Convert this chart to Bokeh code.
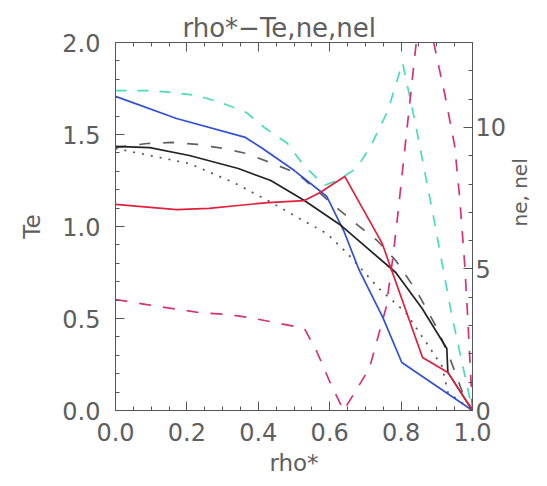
import math
from bokeh.plotting import figure
from bokeh.models import Range1d, LinearAxis, SingleIntervalTicker, PrintfTickFormatter
from bokeh.embed import file_html
from bokeh.resources import INLINE

# ---------------- data ----------------
# Te-axis (left) profiles
te_solid_rho = [0.0, 0.096, 0.207, 0.344, 0.435, 0.529, 0.628, 0.785, 0.859, 0.928, 0.931, 1.0]
te_solid_val = [1.435, 1.429, 1.386, 1.315, 1.250, 1.141, 1.011, 0.750, 0.554, 0.337, 0.207, 0.0]

te_dash_rho = [0.0, 0.088, 0.157, 0.229, 0.303, 0.366, 0.433, 0.510, 0.612, 0.680, 0.733, 0.785, 0.846, 0.901, 0.937, 0.975, 1.0]
te_dash_val = [1.429, 1.451, 1.457, 1.446, 1.424, 1.397, 1.348, 1.288, 1.114, 1.005, 0.924, 0.815, 0.641, 0.446, 0.283, 0.082, 0.0]

te_dot_rho = [0.0, 0.207, 0.331, 0.427, 0.510, 0.592, 0.647, 0.738, 0.813, 0.876, 0.915, 0.931, 1.0]
te_dot_val = [1.424, 1.342, 1.239, 1.141, 1.049, 0.962, 0.859, 0.663, 0.533, 0.353, 0.239, 0.098, 0.0]

te_blue_rho = [0.0, 0.171, 0.364, 0.408, 0.501, 0.592, 0.639, 0.683, 0.749, 0.802, 1.0]
te_blue_val = [1.707, 1.587, 1.484, 1.429, 1.304, 1.163, 0.978, 0.761, 0.505, 0.261, 0.0]

te_red_rho = [0.0, 0.171, 0.262, 0.344, 0.427, 0.529, 0.573, 0.642, 0.747, 0.860, 0.931, 1.0]
te_red_val = [1.120, 1.092, 1.098, 1.114, 1.130, 1.141, 1.185, 1.272, 0.908, 0.288, 0.207, 0.0]

# ne-axis (right) profiles
ne_cyan_rho = [0.0, 0.096, 0.160, 0.229, 0.303, 0.366, 0.421, 0.482, 0.523, 0.584, 0.620, 0.675, 0.716, 0.763, 0.804, 0.840, 0.890, 0.942, 1.0]
ne_cyan_val = [11.30, 11.30, 11.23, 11.13, 10.84, 10.53, 9.96, 9.43, 8.73, 7.95, 8.12, 8.55, 9.36, 10.60, 12.29, 10.14, 6.89, 3.36, 0.0]

nel_mag_rho = [0.0, 0.088, 0.160, 0.234, 0.317, 0.372, 0.446, 0.529, 0.565, 0.601, 0.639, 0.711, 0.758, 0.777, 0.793, 0.813, 0.840, 0.860, 0.890, 0.923, 0.950, 0.964, 0.978, 0.986, 1.0]
nel_mag_val = [3.92, 3.74, 3.60, 3.46, 3.39, 3.29, 3.11, 2.90, 2.05, 0.99, 0.0, 1.48, 3.64, 5.40, 7.17, 9.54, 12.72, 14.87, 13.07, 11.13, 9.36, 7.52, 5.19, 3.43, 0.0]

x_ticks_interval = 0.2
te_ticks_interval = 0.5
ne_ticks_interval = 5

TITLE = "rho*\u2212Te,ne,nel"
XLABEL = "rho*"
YLABEL = "Te"
Y2LABEL = "ne, nel"

# ---------------- figure ----------------
FONT = "DejaVu Sans"
TXT = "#5e5e5e"
AX = "#555555"

p = figure(width=547, height=484, x_range=Range1d(0, 1), y_range=Range1d(0, 2),
           output_backend="svg", toolbar_location=None,
           x_axis_location=None, y_axis_location=None,
           min_border_left=115, min_border_right=69, min_border_top=42, min_border_bottom=74)
p.extra_y_ranges = {"ne": Range1d(0, 13)}
p.xgrid.visible = False
p.ygrid.visible = False
p.outline_line_color = AX
p.outline_line_width = 1
p.background_fill_color = "white"
p.border_fill_color = "white"

p.title.text = TITLE
p.title.align = "left"
p.title.offset = 67
p.title.standoff = 0
p.title.text_font = FONT
p.title.text_font_size = "26px"
p.title.text_font_style = "normal"
p.title.text_color = TXT


def style(ax, standoff, show=True):
    ax.axis_line_color = AX
    ax.major_tick_line_color = AX
    ax.minor_tick_line_color = AX
    ax.major_tick_in = 9
    ax.major_tick_out = 0
    ax.minor_tick_in = 4
    ax.minor_tick_out = 0
    ax.major_label_standoff = standoff
    ax.major_label_text_font = FONT
    ax.major_label_text_color = TXT
    ax.major_label_text_font_size = "24px" if show else "1px"
    ax.axis_label_text_font = FONT
    ax.axis_label_text_font_style = "normal"
    ax.axis_label_text_color = TXT
    ax.axis_label_text_font_size = "23px"
    if not show:
        ax.major_label_text_alpha = 0.0


xb = LinearAxis(ticker=SingleIntervalTicker(interval=x_ticks_interval, num_minor_ticks=4),
                formatter=PrintfTickFormatter(format="%.1f"), axis_label=XLABEL)
style(xb, 12)
xb.axis_label_standoff = 6
p.add_layout(xb, "below")

xt = LinearAxis(ticker=SingleIntervalTicker(interval=x_ticks_interval, num_minor_ticks=4),
                formatter=PrintfTickFormatter(format="%.1f"))
style(xt, 0, show=False)
p.add_layout(xt, "above")

yl = LinearAxis(ticker=SingleIntervalTicker(interval=te_ticks_interval, num_minor_ticks=5),
                formatter=PrintfTickFormatter(format="%.1f"), axis_label=YLABEL)
style(yl, 15)
yl.axis_label_standoff = 14
p.add_layout(yl, "left")

yr = LinearAxis(y_range_name="ne", ticker=SingleIntervalTicker(interval=ne_ticks_interval, num_minor_ticks=5),
                formatter=PrintfTickFormatter(format="%d"), axis_label=Y2LABEL)
style(yr, 3)
yr.axis_label_standoff = 11
yr.axis_label_text_font_size = "20px"
yr.axis_label_orientation = math.pi / 2
p.add_layout(yr, "right")

# ---------------- lines ----------------
W = 1.7
p.line(ne_cyan_rho, ne_cyan_val, y_range_name="ne", line_color="#48dcbc", line_width=W, line_dash="11 11")
p.line(nel_mag_rho, nel_mag_val, y_range_name="ne", line_color="#d83078", line_width=W, line_dash="12 12")
p.line(te_dash_rho, te_dash_val, line_color="#606060", line_width=W, line_dash="11 13")
p.line(te_dot_rho, te_dot_val, line_color="#555555", line_width=W, line_dash="2 7")
p.line(te_blue_rho, te_blue_val, line_color="#3050d8", line_width=W)
p.line(te_solid_rho, te_solid_val, line_color="#222222", line_width=W)
p.line(te_red_rho, te_red_val, line_color="#e0203c", line_width=W)

open("out.html", "w").write(file_html(p, INLINE))
